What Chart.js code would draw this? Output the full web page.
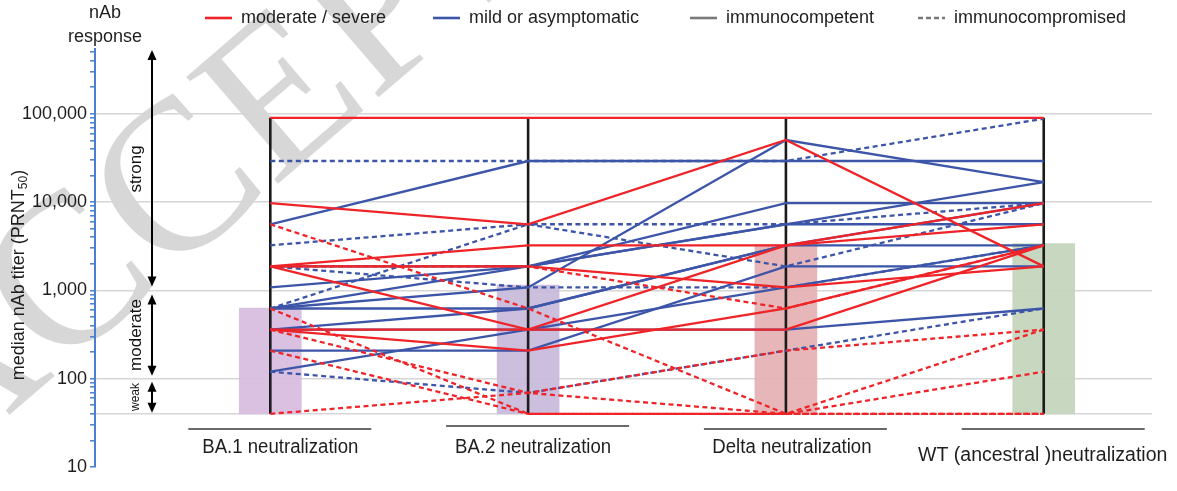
<!DOCTYPE html>
<html><head><meta charset="utf-8">
<script src="https://cdn.jsdelivr.net/npm/chart.js@4.4.1/dist/chart.umd.min.js"></script>
<style>html,body{margin:0;padding:0;background:#fff;}#wrap{width:1177px;height:491px;position:relative;}</style>
</head><body><div id="wrap"><canvas id="c"></canvas></div>
<script>
// ---------------- data ----------------
const categories = ['BA.1 neutralization', 'BA.2 neutralization', 'Delta neutralization', 'WT (ancestral )neutralization'];
const yTickLabels = [10, 100, 1000, 10000, 100000];
const limitOfDetection = 40;
const upperCap = 90000;
const medianTiters = [630, 1150, 3300, 3400];
// each row: one patient, titers for BA.1, BA.2, Delta, WT
const severeCompetent = [
  [90000, 90000, 90000, 90000],
  [9720, 5610, 50500, 1870],
  [1870, 3240, 3240, 5610],
  [1870, 360, 3240, 9720],
  [360, 360, 360, 3240],
  [360, 208, 624, 3240],
  [1870, 1870, 1080, 1870]
];
const severeCompromised = [
  [5610, 624, 40, 360],
  [624, 40, 40, 40],
  [360, 69, 208, 360],
  [208, 40, 40, 120],
  [40, 69, 40, 40],
  [1870, 1870, 624, 3240]
];
const mildCompetent = [
  [5610, 29200, 29200, 29200],
  [624, 1080, 50500, 16800],
  [1870, 1870, 9720, 9720],
  [1080, 1870, 5610, 5610],
  [624, 1870, 5610, 16800],
  [360, 624, 3240, 3240],
  [208, 208, 1870, 1870],
  [120, 360, 1080, 3240],
  [624, 624, 3240, 9720],
  [360, 360, 360, 624]
];
const mildCompromised = [
  [29200, 29200, 29200, 88000],
  [3240, 5610, 5610, 9720],
  [624, 5610, 1870, 9720],
  [1870, 1080, 1080, 3240],
  [120, 69, 208, 624]
];
const barColors = ['rgba(216,190,224,0.95)', 'rgba(201,186,219,0.95)', 'rgba(230,178,180,0.95)', 'rgba(197,213,188,0.95)'];

// ---------------- styles ----------------
const RED = '#ee2428', BLUE = '#3d55a8';
const FONT = '"Liberation Sans", Arial, sans-serif';

function lineSet(rows, color, dashed, order) {
  return rows.map(r => ({
    type: 'line',
    data: r.map((v, i) => ({ x: i, y: v })),
    borderColor: color, borderWidth: 2.3,
    borderDash: dashed ? [5, 3.5] : [],
    pointRadius: 0, fill: false, tension: 0, order: order
  }));
}

const datasets = [];
datasets.push({
  type: 'bar',
  data: medianTiters.map((m, i) => ({ x: i, y: [limitOfDetection, m] })),
  backgroundColor: barColors, borderWidth: 0, barThickness: 62, order: 20
});
categories.forEach((c, i) => {
  datasets.push({
    type: 'line',
    data: [{ x: i, y: limitOfDetection }, { x: i, y: upperCap }],
    borderColor: '#1b1b1b', borderWidth: 2.6, pointRadius: 0, order: 15
  });
});
datasets.push(...lineSet(mildCompetent, BLUE, false, 4));
datasets.push(...lineSet(mildCompromised, BLUE, true, 3));
datasets.push(...lineSet(severeCompromised, RED, true, 2));
datasets.push(...lineSet(severeCompetent, RED, false, 1));

const majorGrid = [limitOfDetection, 100, 1000, 10000, 100000];

const decorPlugin = {
  id: 'decor',
  beforeDraw(chart) {
    const ctx = chart.ctx;
    ctx.save();
    ctx.fillStyle = '#fff';
    ctx.fillRect(0, 0, chart.width, chart.height);
    // watermark
    ctx.translate(-62, 476);
    ctx.rotate(-0.71);
    ctx.font = '215px "Liberation Serif", "DejaVu Serif", serif';
    ctx.fillStyle = 'rgba(160,160,160,0.42)';
    ctx.textBaseline = 'alphabetic';
    ctx.fillText('ACCEPTED', 0, 0);
    ctx.restore();
  },
  afterDraw(chart) {
    const ctx = chart.ctx;
    const xs = chart.scales.x, ys = chart.scales.y;
    const area = chart.chartArea;
    ctx.save();
    // legend
    ctx.font = '18px ' + FONT;
    ctx.textBaseline = 'middle';
    ctx.fillStyle = '#1e1e1e';
    const leg = [
      { x: 205, c: RED, d: [], t: 'moderate / severe' },
      { x: 433, c: BLUE, d: [], t: 'mild or asymptomatic' },
      { x: 690, c: '#7a7a7a', d: [], t: 'immunocompetent' },
      { x: 918, c: '#7a7a7a', d: [5, 3], t: 'immunocompromised' }
    ];
    leg.forEach(l => {
      ctx.beginPath(); ctx.setLineDash(l.d); ctx.strokeStyle = l.c; ctx.lineWidth = 2.6;
      ctx.moveTo(l.x, 18); ctx.lineTo(l.x + 27, 18); ctx.stroke();
      ctx.setLineDash([]);
      ctx.fillText(l.t, l.x + 36, 18);
    });
    // nAb response
    ctx.textAlign = 'center';
    ctx.fillText('nAb', 105, 13);
    ctx.fillText('response', 105, 37);
    // y title with subscript
    ctx.save();
    ctx.translate(19, 275);
    ctx.rotate(-Math.PI / 2);
    ctx.textAlign = 'left';
    ctx.textBaseline = 'middle';
    const p1 = 'median nAb titer (PRNT', p2 = '50', p3 = ')';
    ctx.font = '18px ' + FONT; const w1 = ctx.measureText(p1).width, w3 = ctx.measureText(p3).width;
    ctx.font = '12px ' + FONT; const w2 = ctx.measureText(p2).width;
    let sx = -(w1 + w2 + w3) / 2;
    ctx.font = '18px ' + FONT; ctx.fillText(p1, sx, 0); sx += w1;
    ctx.font = '12px ' + FONT; ctx.fillText(p2, sx, 5); sx += w2;
    ctx.font = '18px ' + FONT; ctx.fillText(p3, sx, 0);
    ctx.restore();
    // response arrows
    const ax = 152;
    const arrow = (y1, y2) => {
      ctx.strokeStyle = '#000'; ctx.fillStyle = '#000'; ctx.lineWidth = 2;
      ctx.beginPath(); ctx.moveTo(ax, y1 + 6); ctx.lineTo(ax, y2 - 6); ctx.stroke();
      ctx.beginPath(); ctx.moveTo(ax, y1); ctx.lineTo(ax - 4.5, y1 + 10); ctx.lineTo(ax + 4.5, y1 + 10); ctx.closePath(); ctx.fill();
      ctx.beginPath(); ctx.moveTo(ax, y2); ctx.lineTo(ax - 4.5, y2 - 10); ctx.lineTo(ax + 4.5, y2 - 10); ctx.closePath(); ctx.fill();
    };
    arrow(area.top + 1, ys.getPixelForValue(1000) - 4);
    arrow(ys.getPixelForValue(1000) + 4, ys.getPixelForValue(100) - 3);
    arrow(ys.getPixelForValue(100) + 3, ys.getPixelForValue(limitOfDetection) - 1);
    const vtext = (t, x, y, f) => {
      ctx.save(); ctx.translate(x, y); ctx.rotate(-Math.PI / 2);
      ctx.font = f; ctx.textAlign = 'center'; ctx.textBaseline = 'middle'; ctx.fillStyle = '#111';
      ctx.fillText(t, 0, 0); ctx.restore();
    };
    vtext('strong', 136, 169, '17px ' + FONT);
    vtext('moderate', 136, 335, '17px ' + FONT);
    vtext('weak', 136, 397, '12px ' + FONT);
    // category labels & underlines
    const dx = [10, 5, 6, -1];
    const yOff = [447, 447, 447, 455];
    const ulY = [429, 426, 429, 429];
    const sxs = [0.93, 0.93, 0.93, 0.975];
    categories.forEach((c, i) => {
      const px = xs.getPixelForValue(i);
      ctx.strokeStyle = '#6a6a6a'; ctx.lineWidth = 2;
      ctx.beginPath(); ctx.moveTo(px - 82, ulY[i]); ctx.lineTo(px + 101, ulY[i]); ctx.stroke();
      ctx.save();
      ctx.translate(px + dx[i], yOff[i]);
      ctx.scale(sxs[i], 1);
      ctx.font = '20px ' + FONT;
      ctx.fillStyle = '#1e1e1e'; ctx.textAlign = 'center'; ctx.textBaseline = 'middle';
      ctx.fillText(c, 0, 0);
      ctx.restore();
    });
    ctx.restore();
  }
};

new Chart(document.getElementById('c'), {
  data: { datasets },
  options: {
    responsive: true, maintainAspectRatio: false, animation: false,
    layout: { padding: { left: 0, right: 25, top: 49, bottom: 24 } },
    plugins: { legend: { display: false }, tooltip: { enabled: false } },
    scales: {
      x: { type: 'linear', min: -0.68, max: 3.42, offset: false, display: false },
      y: {
        type: 'logarithmic', min: 10, max: 542000,
        afterFit(s) { s.width = 95; },
        afterBuildTicks(s) {
          const t = [];
          for (let d = 10; d <= 100000; d *= 10) for (let m = 1; m <= 9; m++) if (d * m <= 542000) t.push({ value: d * m });
          s.ticks = t;
        },
        border: { color: '#4a7fd0', width: 2 },
        grid: {
          color: c => majorGrid.includes(c.tick && c.tick.value) ? '#d6d6d6' : 'rgba(0,0,0,0)',
          lineWidth: 1.6,
          tickColor: '#4a7fd0', tickLength: 5, tickWidth: 1.5
        },
        ticks: {
          padding: 3, color: '#1e1e1e', font: { family: FONT, size: 18 }, autoSkip: false,
          callback: v => yTickLabels.includes(v) ? v.toLocaleString('en-US') : ''
        }
      }
    }
  },
  plugins: [decorPlugin]
});
</script></body></html>
